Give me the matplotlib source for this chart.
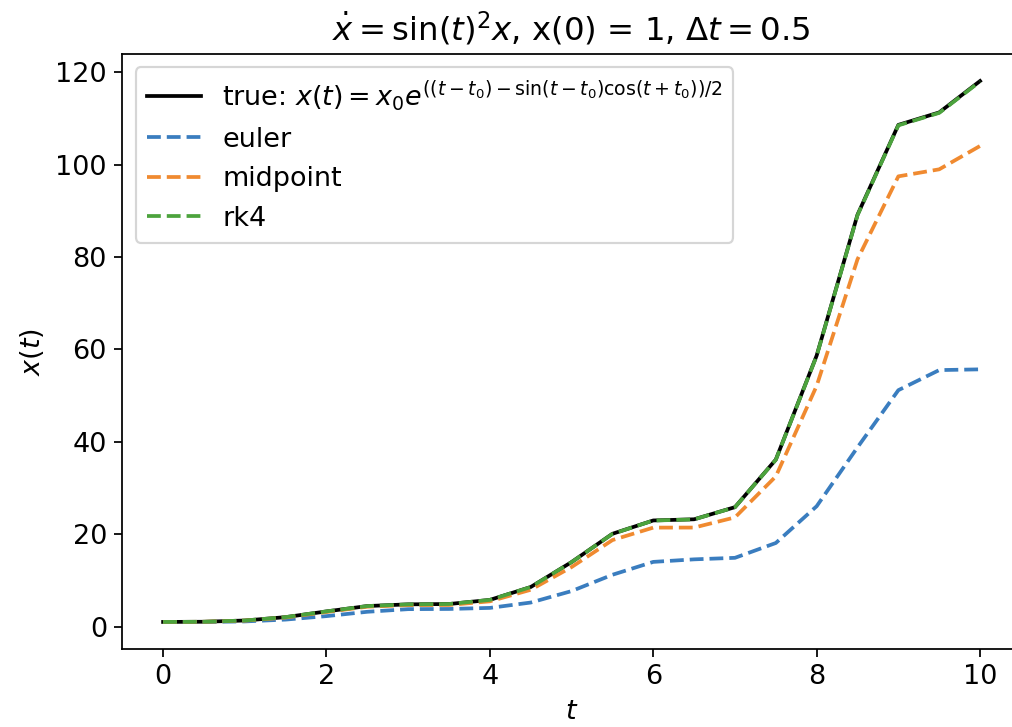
import matplotlib
matplotlib.use("Agg")
import matplotlib.pyplot as plt

plt.rcParams['font.size'] = 12.3

t = [0, 0.5, 1, 1.5, 2, 2.5, 3, 3.5, 4, 4.5, 5, 5.5, 6, 6.5, 7, 7.5, 8, 8.5, 9, 9.5, 10]
x_true = [1.0, 1.04, 1.31, 2.04, 3.28, 4.44, 4.81, 4.88, 5.77, 8.56, 13.96, 20.08,
          22.97, 23.22, 25.85, 36.14, 58.67, 89.15, 108.6, 111.3, 118.1]
x_euler = [1.0, 1.0, 1.11, 1.51, 2.26, 3.20, 3.77, 3.81, 4.04, 5.20, 7.68, 11.21,
           14.00, 14.55, 14.88, 18.09, 26.05, 38.80, 51.17, 55.52, 55.68]
x_mid = [1.0, 1.03, 1.28, 1.96, 3.15, 4.30, 4.64, 4.67, 5.46, 7.96, 12.88, 18.72,
         21.42, 21.43, 23.63, 32.50, 52.11, 79.51, 97.46, 98.98, 104.04]
x_rk4 = [1.0, 1.04, 1.31, 2.04, 3.28, 4.43, 4.80, 4.88, 5.77, 8.55, 13.94, 20.06,
         22.95, 23.20, 25.83, 36.10, 58.60, 89.05, 108.5, 111.2, 118.0]

fig = plt.figure(figsize=(6.4, 4.598), dpi=158.125)
ax = fig.add_axes([0.1208, 0.1073, 0.888, 0.8184])

lw = 1.7
ax.plot(t, x_true, color='black', lw=lw,
        label=r'true: $x(t) = x_0 e^{((t-t_0) - \sin(t-t_0)\cos(t+t_0))/2}$')
ax.plot(t, x_euler, '--', color='#3a7dbf', lw=lw, label='euler')
ax.plot(t, x_mid, '--', color='#f08a30', lw=lw, label='midpoint')
ax.plot(t, x_rk4, '--', color='#4ca33d', lw=lw, label='rk4')

ax.set_title(r'$\dot{x} = \sin(t)^2 x$, x(0) = 1, $\Delta t = 0.5$')
ax.set_xlabel(r'$t$')
ax.set_ylabel(r'$x(t)$')
ax.legend(loc='upper left')
ax.spines['right'].set_visible(False)  # cropped off in the original

fig.savefig('out.png', dpi=158.125)
